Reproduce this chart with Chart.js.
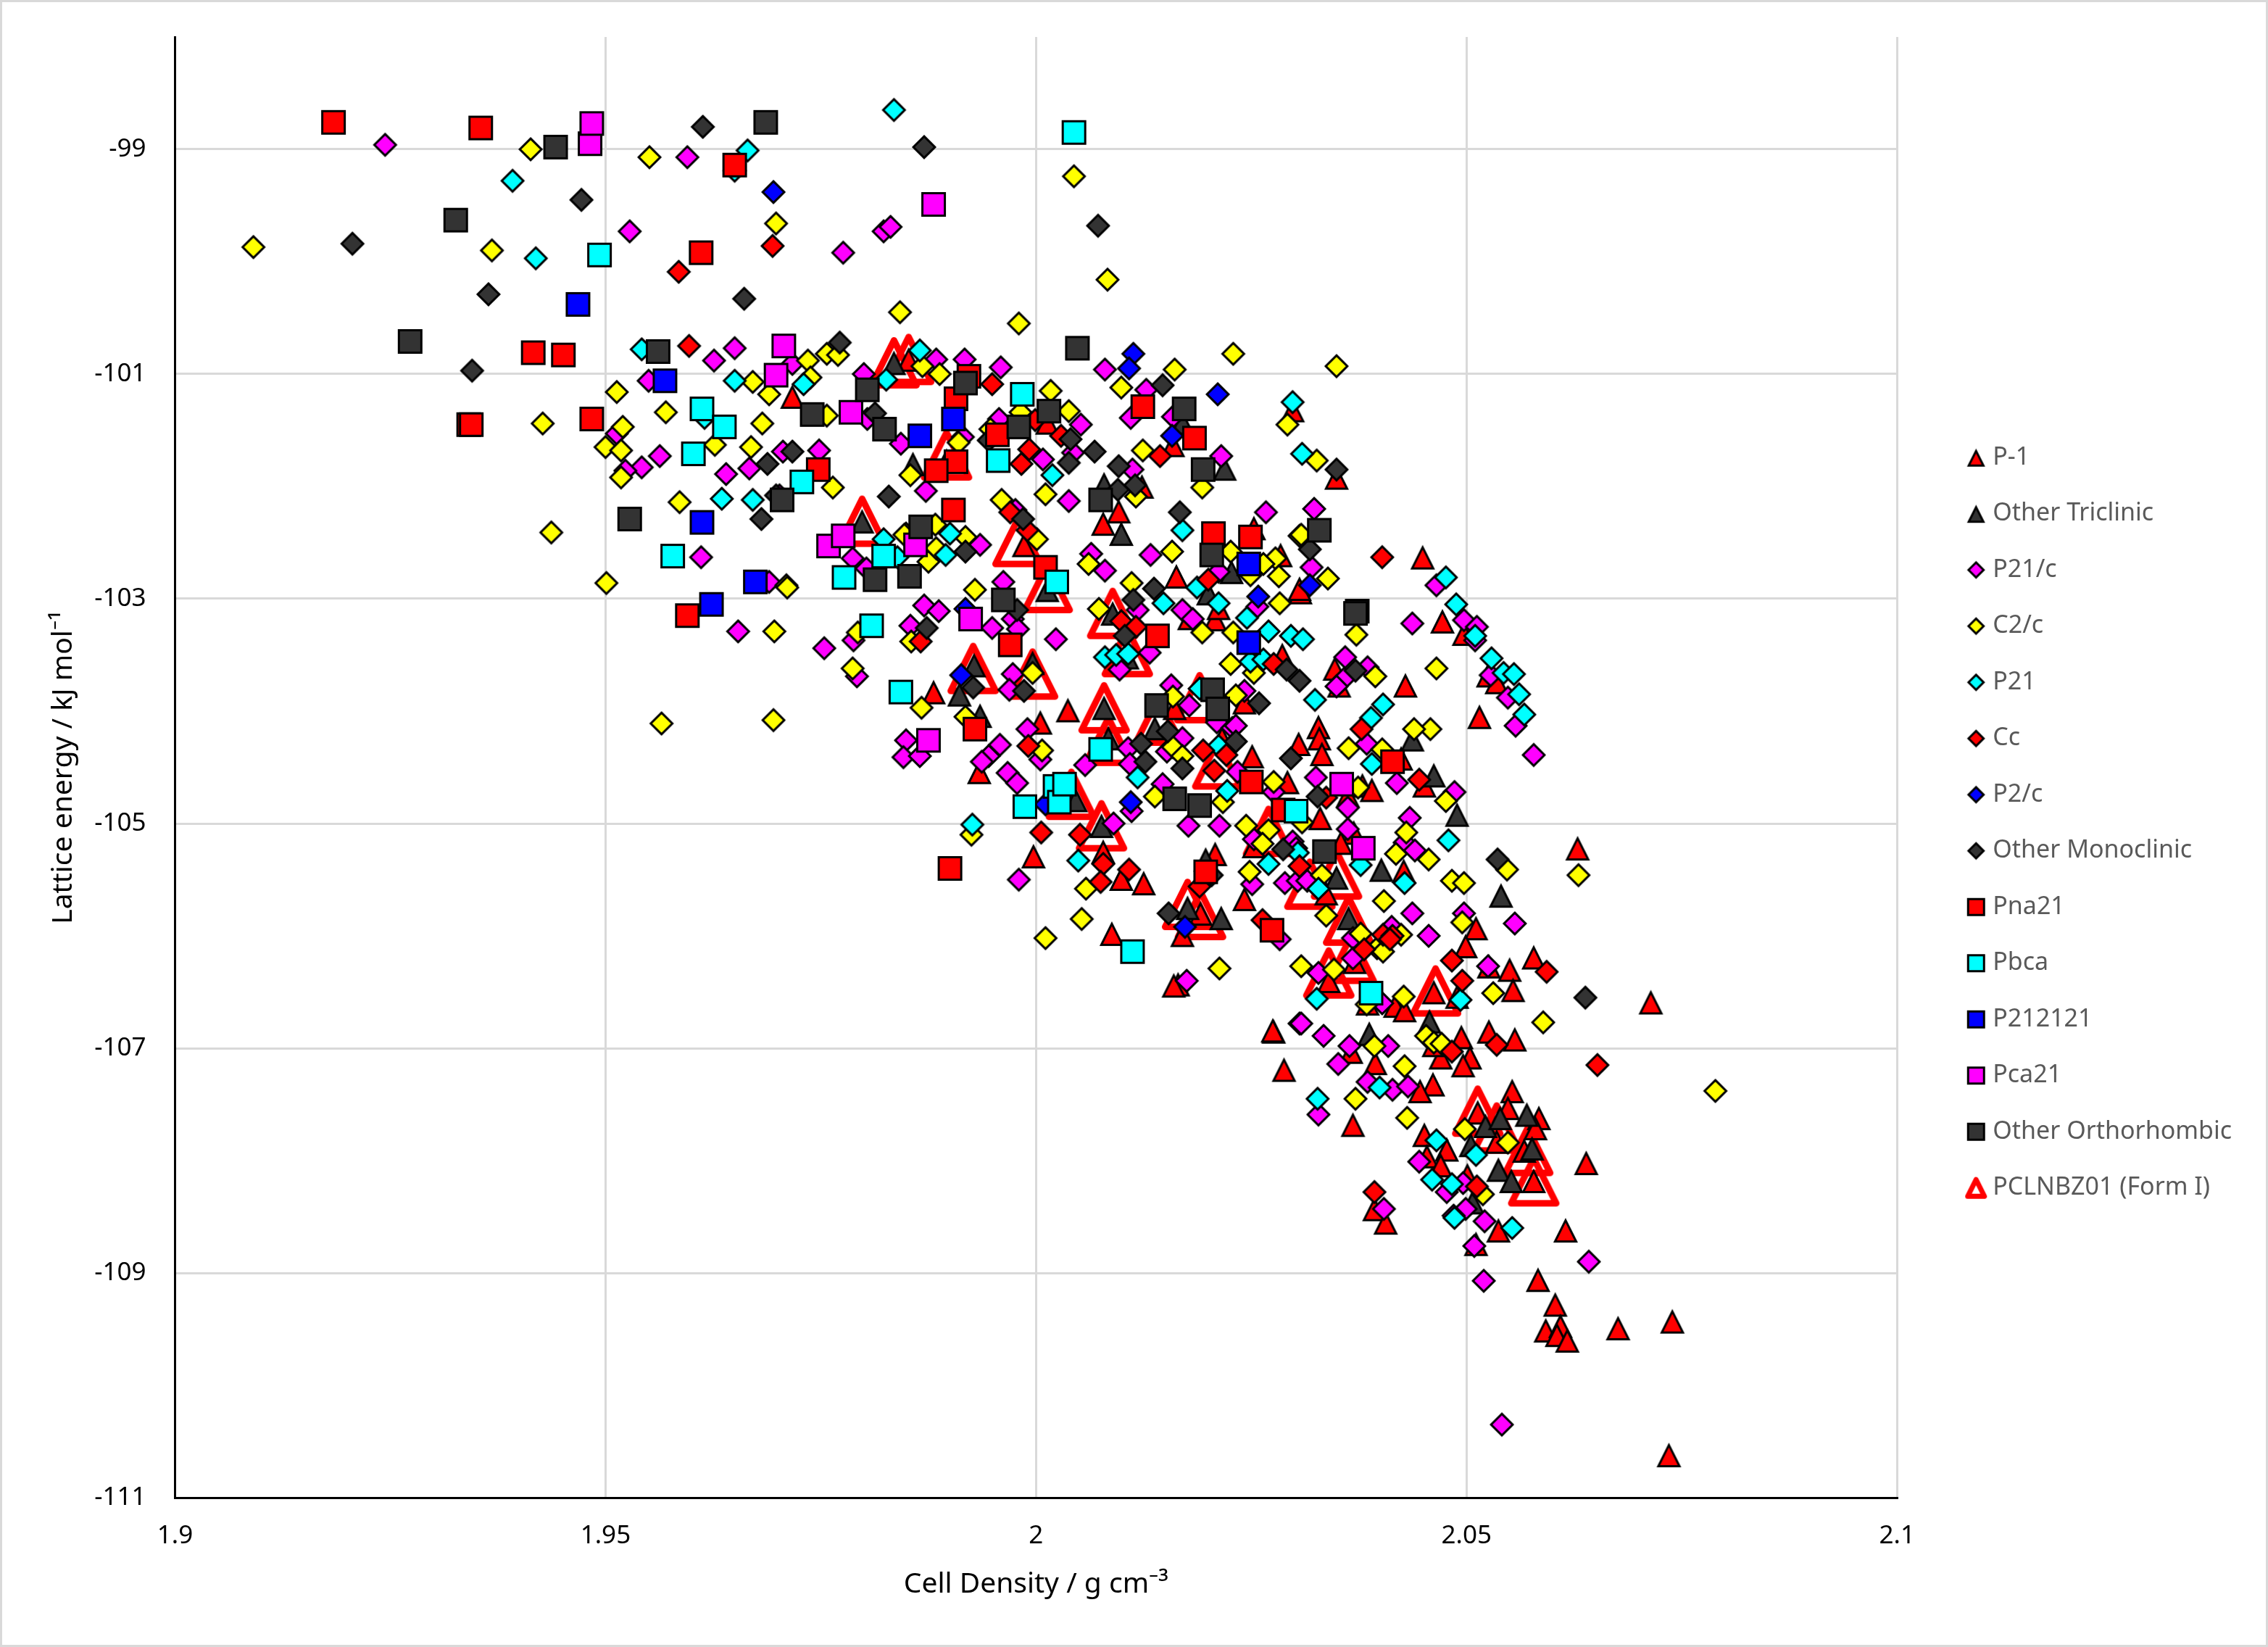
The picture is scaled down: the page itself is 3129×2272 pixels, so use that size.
<!DOCTYPE html>
<html>
<head>
<meta charset="utf-8">
<title>Lattice energy vs cell density</title>
<script src="https://cdn.jsdelivr.net/npm/chart.js@4"></script>
<style>
    html, body { margin: 0; background: #fff; }
    #landscape { display: block; outline: 3px solid #d9d9d9; outline-offset: -3px; }
</style>
</head>
<body>
<canvas id="landscape" width="3129" height="2272"></canvas>
<script>
// [density, energy] pairs per space group
const pBar1 = [[2.0583,-109.06],[2.0603,-109.28],[2.0592,-109.51],[2.0609,-109.47],[2.0605,-109.55],[2.0617,-109.60],[2.0676,-109.49],[2.0739,-109.43],[2.0735,-110.62],[2.0511,-108.74],
    [2.0714,-106.59],[2.0639,-108.02],[2.0615,-108.62],[2.0537,-108.62],[2.0553,-107.38],[2.0548,-107.53],[2.0584,-107.62],[2.0580,-107.71],[2.0567,-107.91],[2.0578,-108.18],
    [2.0513,-107.57],[2.0535,-107.83],[2.0451,-107.77],[2.0477,-107.90],[2.0454,-107.96],[2.0470,-108.04],[2.0501,-108.13],[2.0368,-107.68],[2.0288,-107.19],[2.0276,-106.85],
    [2.0578,-106.19],[2.0550,-106.30],[2.0554,-106.48],[2.0526,-106.27],[2.0511,-105.93],[2.0499,-106.09],[2.0462,-106.50],[2.0489,-106.54],[2.0417,-106.62],[2.0428,-106.66],
    [2.0385,-106.60],[2.0526,-106.85],[2.0556,-106.92],[2.0494,-106.90],[2.0504,-107.08],[2.0470,-107.08],[2.0496,-107.15],[2.0462,-106.97],[2.0461,-107.32],[2.0446,-107.38],
    [2.0394,-107.13],[2.0366,-107.03],[2.0340,-106.40],[2.0370,-106.23],[2.0393,-108.43],[2.0406,-108.55],[2.0449,-102.63],[2.0472,-103.20],[2.0497,-103.31],[2.0429,-103.77],
    [2.0515,-104.05],[2.0284,-102.61],[2.0307,-102.94],[2.0286,-103.50],[2.0347,-103.62],[2.0352,-103.77],[2.0525,-103.68],[2.0535,-103.74],[2.0328,-104.14],[2.0329,-104.24],
    [2.0305,-104.29],[2.0332,-104.38],[2.0251,-104.40],[2.0424,-104.42],[2.0292,-104.63],[2.0379,-104.66],[2.0390,-104.70],[2.0451,-104.66],[2.0330,-104.95],[2.0362,-104.75],
    [2.0369,-105.08],[2.0354,-105.17],[2.0427,-105.42],[2.0629,-105.22],[2.0242,-105.67],[2.0253,-105.20],[2.0337,-105.62],[2.0298,-101.32],[2.0349,-101.92],[2.0163,-102.80],
    [2.0159,-101.63],[2.0078,-102.33],[2.0096,-102.22],[2.0123,-102.00],[1.9986,-102.52],[2.0208,-103.18],[2.0212,-103.08],[2.0178,-103.17],[2.0306,-102.91],[1.9852,-100.87],
    [2.0253,-102.37],[1.9881,-103.83],[2.0013,-101.43],[1.9717,-101.20],[1.9934,-104.54],[2.0005,-104.10],[2.0037,-103.99],[1.9997,-105.29],[2.0078,-105.25],[2.0099,-105.49],
    [2.0125,-105.53],[2.0088,-105.98],[2.0165,-106.43],[2.0160,-106.44],[2.0208,-105.27],[2.0275,-106.84],[2.0191,-105.80],[2.0170,-105.99],[2.0161,-103.97],[2.0242,-103.92],[2.0216,-104.24]];

const otherTriclinic = [[1.9835,-100.90],[1.9857,-101.80],[1.9896,-101.77],[1.9798,-102.31],[2.0099,-102.42],[2.0013,-102.92],[2.0089,-103.13],[2.0079,-101.98],[2.0219,-101.84],[2.0227,-102.76],
    [2.0170,-101.43],[2.0200,-102.95],[2.0106,-103.52],[1.9928,-103.59],[1.9996,-103.57],[1.9911,-103.85],[1.9935,-104.04],[2.0079,-103.97],[2.0084,-104.24],[2.0138,-104.15],
    [2.0046,-104.79],[2.0076,-105.02],[2.0176,-105.75],[2.0215,-105.84],[2.0197,-105.32],[2.0437,-104.25],[2.0462,-104.57],[2.0489,-104.92],[2.0401,-105.41],[2.0540,-105.64],
    [2.0349,-105.48],[2.0363,-105.84],[2.0457,-106.76],[2.0387,-106.87],[2.0522,-107.69],[2.0539,-107.62],[2.0570,-107.59],[2.0576,-107.89],[2.0505,-107.86],[2.0537,-108.08],[2.0552,-108.18],[2.0507,-108.37]];

const p21c = [[1.9244,-98.96],[1.9595,-99.07],[1.9528,-99.73],[1.9776,-99.92],[1.9823,-99.73],[1.9831,-99.69],[1.9626,-100.88],[1.9650,-100.77],[1.9717,-100.91],[1.9800,-101.00],
    [1.9550,-101.06],[1.9513,-101.53],[1.9563,-101.73],[1.9542,-101.83],[1.9523,-101.86],[1.9706,-101.69],[1.9748,-101.68],[1.9667,-101.84],[1.9640,-101.89],[1.9702,-102.08],
    [1.9611,-102.63],[1.9690,-102.85],[1.9787,-102.64],[1.9803,-102.73],[1.9654,-103.29],[1.9754,-103.44],[1.9788,-103.37],[1.9792,-103.69],[1.9854,-103.24],[1.9870,-103.06],
    [1.9887,-103.11],[1.9849,-104.26],[1.9872,-102.04],[1.9917,-100.87],[1.9959,-100.94],[1.9884,-100.87],[2.0052,-101.45],[1.9957,-101.40],[2.0080,-100.96],[2.0128,-101.14],
    [2.0110,-101.39],[2.0159,-101.38],[2.0215,-101.73],[1.9843,-101.62],[1.9804,-101.40],[1.9915,-101.56],[2.0008,-101.76],[2.0043,-101.70],[2.0112,-101.85],[2.0038,-102.13],
    [1.9976,-102.21],[1.9935,-102.52],[2.0133,-102.61],[2.0064,-102.60],[2.0080,-102.75],[2.0267,-102.23],[2.0170,-103.10],[2.0212,-102.76],[1.9949,-103.26],[1.9973,-103.18],
    [1.9979,-103.27],[1.9962,-102.85],[2.0023,-103.36],[2.0118,-103.10],[2.0257,-103.07],[2.0182,-103.18],[2.0097,-103.63],[2.0132,-103.48],[2.0157,-103.77],[2.0242,-103.82],
    [1.9973,-103.67],[1.9969,-103.81],[1.9846,-104.41],[1.9865,-104.40],[1.9958,-104.30],[1.9945,-104.40],[1.9937,-104.45],[1.9967,-104.55],[1.9978,-104.64],[1.9990,-104.16],
    [2.0005,-104.43],[2.0057,-104.48],[2.0107,-104.33],[2.0109,-104.47],[2.0170,-104.24],[2.0152,-104.36],[2.0178,-103.95],[2.0210,-104.10],[2.0228,-104.15],[2.0234,-104.54],
    [2.0276,-104.72],[2.0147,-104.65],[2.0111,-104.89],[2.0090,-105.00],[2.0177,-105.02],[2.0213,-105.02],[1.9980,-105.50],[2.0283,-106.03],[2.0175,-106.40],[2.0306,-106.78],
    [2.0289,-105.53],[2.0304,-105.51],[2.0251,-105.54],[2.0253,-105.14],[2.0298,-105.16],[2.0323,-102.20],[2.0320,-102.72],[2.0465,-102.88],[2.0437,-103.22],[2.0497,-103.19],
    [2.0512,-103.25],[2.0510,-103.37],[2.0359,-103.52],[2.0385,-103.61],[2.0358,-103.71],[2.0349,-103.78],[2.0528,-103.68],[2.0548,-103.88],[2.0557,-104.13],[2.0578,-104.39],
    [2.0232,-104.13],[2.0325,-104.59],[2.0384,-104.29],[2.0419,-104.64],[2.0486,-104.72],[2.0362,-104.86],[2.0362,-105.05],[2.0434,-104.95],[2.0428,-105.17],[2.0440,-105.24],
    [2.0302,-105.22],[2.0315,-105.51],[2.0437,-105.80],[2.0497,-105.80],[2.0556,-105.89],[2.0413,-105.92],[2.0456,-106.00],[2.0368,-106.02],[2.0368,-106.20],[2.0328,-106.33],
    [2.0525,-106.27],[2.0402,-106.60],[2.0308,-106.78],[2.0334,-106.89],[2.0364,-106.98],[2.0409,-106.98],[2.0351,-107.14],[2.0385,-107.30],[2.0414,-107.37],[2.0432,-107.34],
    [2.0328,-107.59],[2.0445,-108.01],[2.0477,-108.28],[2.0499,-108.43],[2.0485,-108.49],[2.0521,-108.54],[2.0509,-108.76],[2.0642,-108.90],[2.0520,-109.07],[2.0404,-108.43],[2.0496,-108.20],[2.0541,-110.35]];

const c2c = [[1.9091,-99.87],[1.9413,-99.00],[1.9551,-99.07],[1.9368,-99.90],[1.9698,-99.66],[2.0044,-99.24],[2.0083,-100.16],[1.9513,-101.16],[1.9427,-101.44],[1.9570,-101.34],
    [1.9520,-101.47],[1.9500,-101.65],[1.9518,-101.68],[1.9518,-101.92],[1.9627,-101.63],[1.9682,-101.44],[1.9669,-101.65],[1.9764,-102.01],[1.9586,-102.14],[1.9437,-102.41],
    [1.9710,-102.88],[1.9501,-102.86],[1.9671,-101.07],[1.9690,-101.18],[1.9735,-100.88],[1.9738,-101.03],[1.9757,-100.82],[1.9770,-100.83],[1.9757,-101.37],[1.9711,-102.90],
    [1.9696,-103.29],[1.9793,-103.30],[1.9787,-103.62],[1.9855,-103.38],[1.9565,-104.11],[1.9695,-104.08],[1.9867,-103.97],[1.9854,-101.90],[1.9875,-102.67],[1.9849,-102.42],
    [1.9883,-102.34],[1.9842,-100.45],[1.9980,-100.55],[2.0229,-100.82],[2.0017,-101.15],[2.0161,-100.96],[2.0099,-101.12],[2.0038,-101.33],[1.9982,-101.34],[2.0292,-101.45],
    [2.0124,-101.68],[2.0193,-102.01],[2.0116,-102.09],[2.0011,-102.07],[1.9960,-102.12],[1.9910,-101.61],[1.9947,-101.49],[1.9888,-101.00],[1.9868,-100.93],[1.9918,-102.45],
    [1.9884,-102.55],[1.9847,-102.43],[2.0001,-102.47],[1.9929,-102.92],[2.0158,-102.58],[2.0061,-102.69],[2.0111,-102.86],[2.0073,-103.09],[2.0226,-102.58],[2.0278,-102.64],
    [2.0264,-102.69],[2.0282,-102.80],[2.0249,-102.79],[2.0283,-103.04],[2.0229,-103.30],[2.0193,-103.30],[2.0226,-103.58],[2.0306,-102.44],[1.9996,-103.66],[2.0253,-103.66],
    [2.0007,-104.35],[1.9918,-104.05],[2.0159,-103.87],[2.0232,-103.86],[2.0159,-104.32],[2.0170,-104.40],[2.0138,-104.76],[2.0217,-104.81],[2.0276,-104.63],[2.0244,-105.02],
    [2.0270,-105.06],[2.0263,-105.18],[2.0248,-105.43],[2.0058,-105.58],[2.0053,-105.85],[2.0011,-106.02],[2.0213,-106.29],[1.9925,-105.10],[2.0465,-103.62],[2.0458,-104.16],
    [2.0439,-104.16],[2.0372,-103.32],[2.0339,-102.82],[2.0308,-102.43],[2.0394,-103.69],[2.0363,-104.33],[2.0402,-104.34],[2.0374,-104.68],[2.0309,-104.99],[2.0476,-104.80],
    [2.0430,-105.08],[2.0418,-105.27],[2.0456,-105.32],[2.0483,-105.51],[2.0497,-105.53],[2.0547,-105.41],[2.0630,-105.46],[2.0404,-105.69],[2.0337,-105.82],[2.0377,-105.98],
    [2.0495,-105.88],[2.0424,-105.99],[2.0332,-105.46],[2.0308,-106.27],[2.0346,-106.30],[2.0396,-106.11],[2.0403,-106.14],[2.0531,-106.51],[2.0589,-106.77],[2.0427,-106.54],
    [2.0384,-106.61],[2.0453,-106.89],[2.0462,-106.95],[2.0471,-106.96],[2.0393,-106.98],[2.0428,-107.16],[2.0371,-107.45],[2.0431,-107.62],[2.0498,-107.72],[2.0548,-107.84],
    [2.0789,-107.38],[2.0519,-108.30],[2.0349,-100.93],[2.0326,-101.77]];

const p21 = [[1.9835,-98.65],[1.9665,-99.01],[1.9650,-99.19],[1.9392,-99.28],[1.9419,-99.97],[1.9542,-100.78],[1.9650,-101.06],[1.9730,-101.09],[1.9615,-101.39],[1.9635,-102.11],
    [1.9671,-102.12],[1.9865,-100.79],[1.9826,-101.05],[2.0019,-101.90],[1.9900,-102.42],[1.9895,-102.61],[1.9823,-102.47],[2.0170,-102.39],[2.0298,-101.25],[2.0309,-101.71],
    [1.9839,-102.63],[2.0187,-102.90],[2.0148,-103.04],[2.0212,-103.04],[2.0245,-103.17],[2.0270,-103.29],[2.0296,-103.33],[2.0249,-103.56],[2.0264,-103.54],[2.0080,-103.52],
    [2.0093,-103.50],[2.0107,-103.49],[2.0190,-103.80],[2.0118,-104.59],[2.0222,-104.71],[2.0212,-104.31],[1.9926,-105.01],[2.0049,-105.33],[2.0270,-105.36],[2.0304,-105.26],
    [2.0476,-102.81],[2.0488,-103.05],[2.0510,-103.33],[2.0529,-103.53],[2.0543,-103.66],[2.0555,-103.67],[2.0561,-103.85],[2.0567,-104.03],[2.0403,-103.94],[2.0389,-104.06],
    [2.0324,-103.90],[2.0390,-104.47],[2.0310,-103.36],[2.0479,-105.15],[2.0377,-105.37],[2.0328,-105.58],[2.0428,-105.53],[2.0326,-106.56],[2.0493,-106.57],[2.0327,-107.45],
    [2.0399,-107.35],[2.0465,-107.82],[2.0511,-107.95],[2.0460,-108.17],[2.0483,-108.21],[2.0486,-108.51],[2.0553,-108.60]];

const cc = [[1.9694,-99.86],[1.9585,-100.09],[1.9597,-100.75],[1.9949,-101.09],[1.9992,-101.67],[1.9983,-101.80],[1.9999,-101.41],[2.0029,-101.55],[2.0144,-101.73],[1.9970,-102.23],
    [1.9990,-102.39],[1.9866,-103.38],[2.0200,-102.83],[2.0276,-103.58],[2.0099,-103.20],[2.0116,-103.25],[2.0402,-102.63],[1.9991,-104.31],[2.0006,-105.08],[2.0051,-105.10],
    [2.0078,-105.36],[2.0108,-105.41],[2.0075,-105.52],[2.0194,-104.35],[2.0221,-104.39],[2.0207,-104.53],[2.0190,-105.56],[2.0263,-105.86],[2.0306,-105.38],[2.0378,-104.16],
    [2.0445,-104.61],[2.0337,-104.77],[2.0403,-105.99],[2.0414,-106.00],[2.0381,-106.12],[2.0411,-106.03],[2.0483,-106.22],[2.0495,-106.40],[2.0593,-106.32],[2.0535,-106.97],
    [2.0483,-107.03],[2.0652,-107.15],[2.0512,-108.23],[2.0393,-108.28]];

const p2c = [[1.9695,-99.38],[2.0113,-100.82],[2.0108,-100.95],[2.0211,-101.18],[2.0158,-101.55],[2.0258,-102.98],[1.9913,-103.68],[1.9918,-103.09],[2.0318,-102.88],[2.0110,-104.81],[2.0011,-104.83],[2.0173,-105.92]];

const otherMonoclinic = [[1.9613,-98.80],[1.9472,-99.45],[1.9206,-99.84],[1.9364,-100.29],[1.9661,-100.33],[1.9345,-100.97],[1.9772,-100.72],[1.9870,-98.98],[2.0072,-99.68],[1.9688,-101.80],
    [1.9717,-101.69],[1.9681,-102.29],[1.9698,-102.08],[1.9813,-101.35],[1.9829,-102.09],[1.9918,-102.58],[1.9985,-102.29],[2.0040,-101.58],[2.0038,-101.79],[2.0068,-101.69],
    [2.0096,-101.82],[2.0147,-101.10],[2.0167,-102.23],[2.0115,-101.99],[2.0095,-102.03],[2.0137,-102.91],[2.0113,-103.01],[2.0103,-103.33],[1.9873,-103.26],[1.9978,-103.10],
    [2.0291,-103.63],[2.0306,-103.73],[1.9945,-101.59],[1.9927,-103.79],[1.9986,-103.82],[2.0122,-104.29],[2.0153,-104.18],[2.0127,-104.45],[2.0170,-104.51],[2.0232,-104.27],
    [2.0259,-103.93],[2.0296,-104.42],[2.0287,-105.23],[2.0154,-105.80],[2.0204,-105.46],[2.0318,-102.56],[2.0371,-103.64],[2.0327,-104.76],[2.0536,-105.32],[2.0638,-106.55],[2.0349,-101.85]];

const pna21 = [[1.9184,-98.76],[1.9355,-98.81],[1.9650,-99.14],[1.9611,-99.92],[1.9416,-100.81],[1.9451,-100.83],[1.9341,-101.45],[1.9344,-101.45],[1.9484,-101.40],[1.9747,-101.85],
    [1.9922,-101.02],[1.9907,-101.22],[1.9955,-101.54],[1.9907,-101.78],[1.9884,-101.86],[2.0124,-101.29],[2.0184,-101.57],[1.9904,-102.21],[2.0011,-102.72],[2.0206,-102.42],
    [2.0249,-102.45],[2.0141,-103.33],[1.9970,-103.41],[1.9929,-104.16],[1.9900,-105.40],[2.0250,-104.63],[2.0197,-105.43],[2.0274,-105.95],[2.0287,-104.88],[2.0414,-104.45],[1.9595,-103.15]];

const pbca = [[2.0044,-98.85],[1.9493,-99.94],[1.9612,-101.31],[1.9638,-101.47],[1.9602,-101.71],[1.9728,-101.96],[1.9578,-102.62],[1.9777,-102.81],[1.9984,-101.18],[1.9956,-101.77],
    [1.9823,-102.62],[2.0024,-102.85],[1.9809,-103.24],[1.9843,-103.83],[2.0075,-104.34],[1.9987,-104.85],[2.0022,-104.67],[2.0027,-104.81],[2.0033,-104.65],[2.0112,-106.14],[2.0302,-104.89],[2.0389,-106.51]];

const p212121 = [[1.9468,-100.38],[1.9569,-101.06],[1.9612,-102.32],[1.9674,-102.85],[1.9623,-103.05],[1.9904,-101.40],[1.9865,-101.55],[2.0247,-103.39],[2.0247,-102.69]];

const pca21 = [[1.9482,-98.95],[1.9484,-98.77],[1.9881,-99.49],[1.9707,-100.75],[1.9698,-101.01],[1.9785,-101.34],[1.9759,-102.53],[1.9776,-102.44],[1.9860,-102.52],[1.9875,-104.26],[1.9924,-103.18],[2.0355,-104.65],[2.0380,-105.22]];

const otherOrthorhombic = [[1.9686,-98.76],[1.9442,-98.98],[1.9326,-99.63],[1.9273,-100.71],[1.9561,-100.80],[1.9740,-101.36],[1.9705,-102.12],[1.9528,-102.29],[1.9804,-101.14],[1.9824,-101.49],
    [1.9918,-101.08],[1.9980,-101.47],[2.0015,-101.33],[2.0048,-100.77],[2.0172,-101.31],[2.0194,-101.85],[1.9866,-102.36],[2.0075,-102.12],[1.9813,-102.83],[1.9853,-102.80],
    [1.9962,-103.01],[2.0204,-102.61],[2.0329,-102.39],[2.0140,-103.95],[2.0205,-103.81],[2.0211,-103.98],[2.0161,-104.78],[2.0190,-104.84],[2.0373,-103.11],[2.0371,-103.13],[2.0335,-105.25]];

const formI = [[1.9835,-100.90],[1.9852,-100.87],[1.9896,-101.72],[1.9798,-102.31],[1.9979,-102.49],[2.0013,-102.90],[2.0089,-103.13],[2.0106,-103.47],[1.9927,-103.62],[1.9996,-103.67],
    [2.0079,-103.97],[2.0190,-103.88],[2.0142,-104.08],[2.0084,-104.26],[2.0041,-104.74],[2.0076,-105.02],[2.0211,-104.47],[2.0270,-105.07],[2.0176,-105.72],[2.0191,-105.81],
    [2.0318,-105.54],[2.0349,-105.45],[2.0363,-105.86],[2.0340,-106.33],[2.0366,-106.20],[2.0464,-106.49],[2.0513,-107.56],[2.0571,-107.91],[2.0578,-108.18],[2.0535,-107.71]];

const xTickValues = [1.9, 1.95, 2, 2.05, 2.1];
const yTickValues = [-111, -109, -107, -105, -103, -101, -99];

const seriesTable = [
    { label: 'P-1', data: pBar1, shape: 'triangle', fill: '#ff0000' },
    { label: 'Other Triclinic', data: otherTriclinic, shape: 'triangle', fill: '#333333' },
    { label: 'P21/c', data: p21c, shape: 'diamond', fill: '#ff00ff' },
    { label: 'C2/c', data: c2c, shape: 'diamond', fill: '#ffff00' },
    { label: 'P21', data: p21, shape: 'diamond', fill: '#00ffff' },
    { label: 'Cc', data: cc, shape: 'diamond', fill: '#ff0000' },
    { label: 'P2/c', data: p2c, shape: 'diamond', fill: '#0000ff' },
    { label: 'Other Monoclinic', data: otherMonoclinic, shape: 'diamond', fill: '#333333' },
    { label: 'Pna21', data: pna21, shape: 'square', fill: '#ff0000' },
    { label: 'Pbca', data: pbca, shape: 'square', fill: '#00ffff' },
    { label: 'P212121', data: p212121, shape: 'square', fill: '#0000ff' },
    { label: 'Pca21', data: pca21, shape: 'square', fill: '#ff00ff' },
    { label: 'Other Orthorhombic', data: otherOrthorhombic, shape: 'square', fill: '#333333' },
    { label: 'PCLNBZ01 (Form I)', data: formI, shape: 'open', fill: '#ff0000' }
];

// Form I sits underneath everything, the rest stack up in table order
const drawOrder = [13, 12, 11, 10, 9, 8, 7, 6, 5, 4, 3, 2, 1, 14];

// Excel style markers: each one is centred on its bounding box
function makeMarker(shape, fill, size) {
    const canvas = document.createElement('canvas');
    canvas.width = canvas.height = size + 4;
    const ctx = canvas.getContext('2d');
    const c = canvas.width / 2;
    const half = size / 2;

    ctx.beginPath();
    ctx.lineWidth = 3;
    ctx.strokeStyle = '#000';
    ctx.fillStyle = fill;
    ctx.miterLimit = 10;
    if (shape === 'diamond') {
        const r = half - 2.1;
        ctx.moveTo(c, c - r);
        ctx.lineTo(c + r, c);
        ctx.lineTo(c, c + r);
        ctx.lineTo(c - r, c);
    } else if (shape === 'square') {
        const r = half - 1.5;
        ctx.rect(c - r, c - r, 2 * r, 2 * r);
    } else if (shape === 'triangle') {
        const r = half - 2.4;
        ctx.moveTo(c, c - half + 3.4);
        ctx.lineTo(c + r, c + half - 1.5);
        ctx.lineTo(c - r, c + half - 1.5);
    }
    if (shape === 'open') {
        const w = size >= 40 ? 9 : 7;
        const r = half - w / 2;
        ctx.lineWidth = w;
        ctx.lineJoin = 'round';
        ctx.strokeStyle = fill;
        ctx.moveTo(c, c - r);
        ctx.lineTo(c + r, c + r);
        ctx.lineTo(c - r, c + r);
        ctx.closePath();
        ctx.stroke();
        return canvas;
    }
    ctx.closePath();
    ctx.fill();
    ctx.stroke();
    return canvas;
}

const tickFont = { family: '"Noto Sans", sans-serif', size: 35 };
const titleFont = { family: '"Noto Sans", sans-serif', size: 39 };

const datasets = seriesTable.map((s, i) => ({
    label: s.label,
    data: s.data.map(p => ({ x: p[0], y: p[1] })),
    order: drawOrder[i],
    showLine: false,
    pointStyle: makeMarker(s.shape, s.fill, s.shape === 'open' ? 71 : 34),
    pointRadius: 20
}));

const legendMarkers = seriesTable.map(s => makeMarker(s.shape, s.fill, s.shape === 'open' ? 30 : 25));

new Chart(document.getElementById('landscape'), {
    type: 'scatter',
    data: { datasets },
    options: {
        responsive: false,
        animation: false,
        devicePixelRatio: 1,
        layout: { padding: { top: 51, left: 0, right: 40, bottom: 53 } },
        scales: {
            x: {
                type: 'linear',
                min: 1.9,
                max: 2.1,
                afterBuildTicks: scale => { scale.ticks = xTickValues.map(value => ({ value })); },
                afterFit: scale => { scale.height = 153; scale.paddingLeft = 0; scale.paddingRight = 0; },
                grid: { color: '#d9d9d9', lineWidth: 3, drawTicks: false },
                border: { color: '#000', width: 3 },
                ticks: { color: '#000', font: tickFont, padding: 32, maxRotation: 0, autoSkip: false, callback: value => String(value) },
                title: { display: true, text: 'Cell Density / g cm⁻³', color: '#000', font: titleFont, padding: { top: 0, bottom: 10 } }
            },
            y: {
                type: 'linear',
                min: -111,
                max: -98,
                afterBuildTicks: scale => { scale.ticks = yTickValues.map(value => ({ value })); },
                afterFit: scale => { scale.width = 241.5; scale.paddingTop = 0; scale.paddingBottom = 0; },
                grid: { color: '#d9d9d9', lineWidth: 3, drawTicks: false },
                border: { color: '#000', width: 3 },
                ticks: { color: '#000', font: tickFont, padding: 40, autoSkip: false, callback: value => String(value) },
                title: { display: true, text: 'Lattice energy / kJ mol⁻¹', color: '#000', font: titleFont, padding: { top: 64, bottom: 0 } }
            },
            // empty strip between the plot and the legend
            spacer: {
                type: 'linear',
                position: 'right',
                grid: { display: false },
                border: { display: false },
                ticks: { display: false },
                afterFit: scale => { scale.width = 59.5; }
            }
        },
        plugins: {
            tooltip: { enabled: false },
            legend: {
                position: 'right',
                labels: {
                    usePointStyle: true,
                    pointStyleWidth: 12,
                    padding: 43.5,
                    color: '#595959',
                    font: { family: '"Noto Sans", sans-serif', size: 34 },
                    generateLabels: chart => chart.data.datasets.map((d, i) => ({
                        text: d.label,
                        pointStyle: legendMarkers[i],
                        fontColor: '#595959',
                        hidden: false,
                        datasetIndex: i
                    }))
                }
            }
        }
    }
});
</script>
</body>
</html>
